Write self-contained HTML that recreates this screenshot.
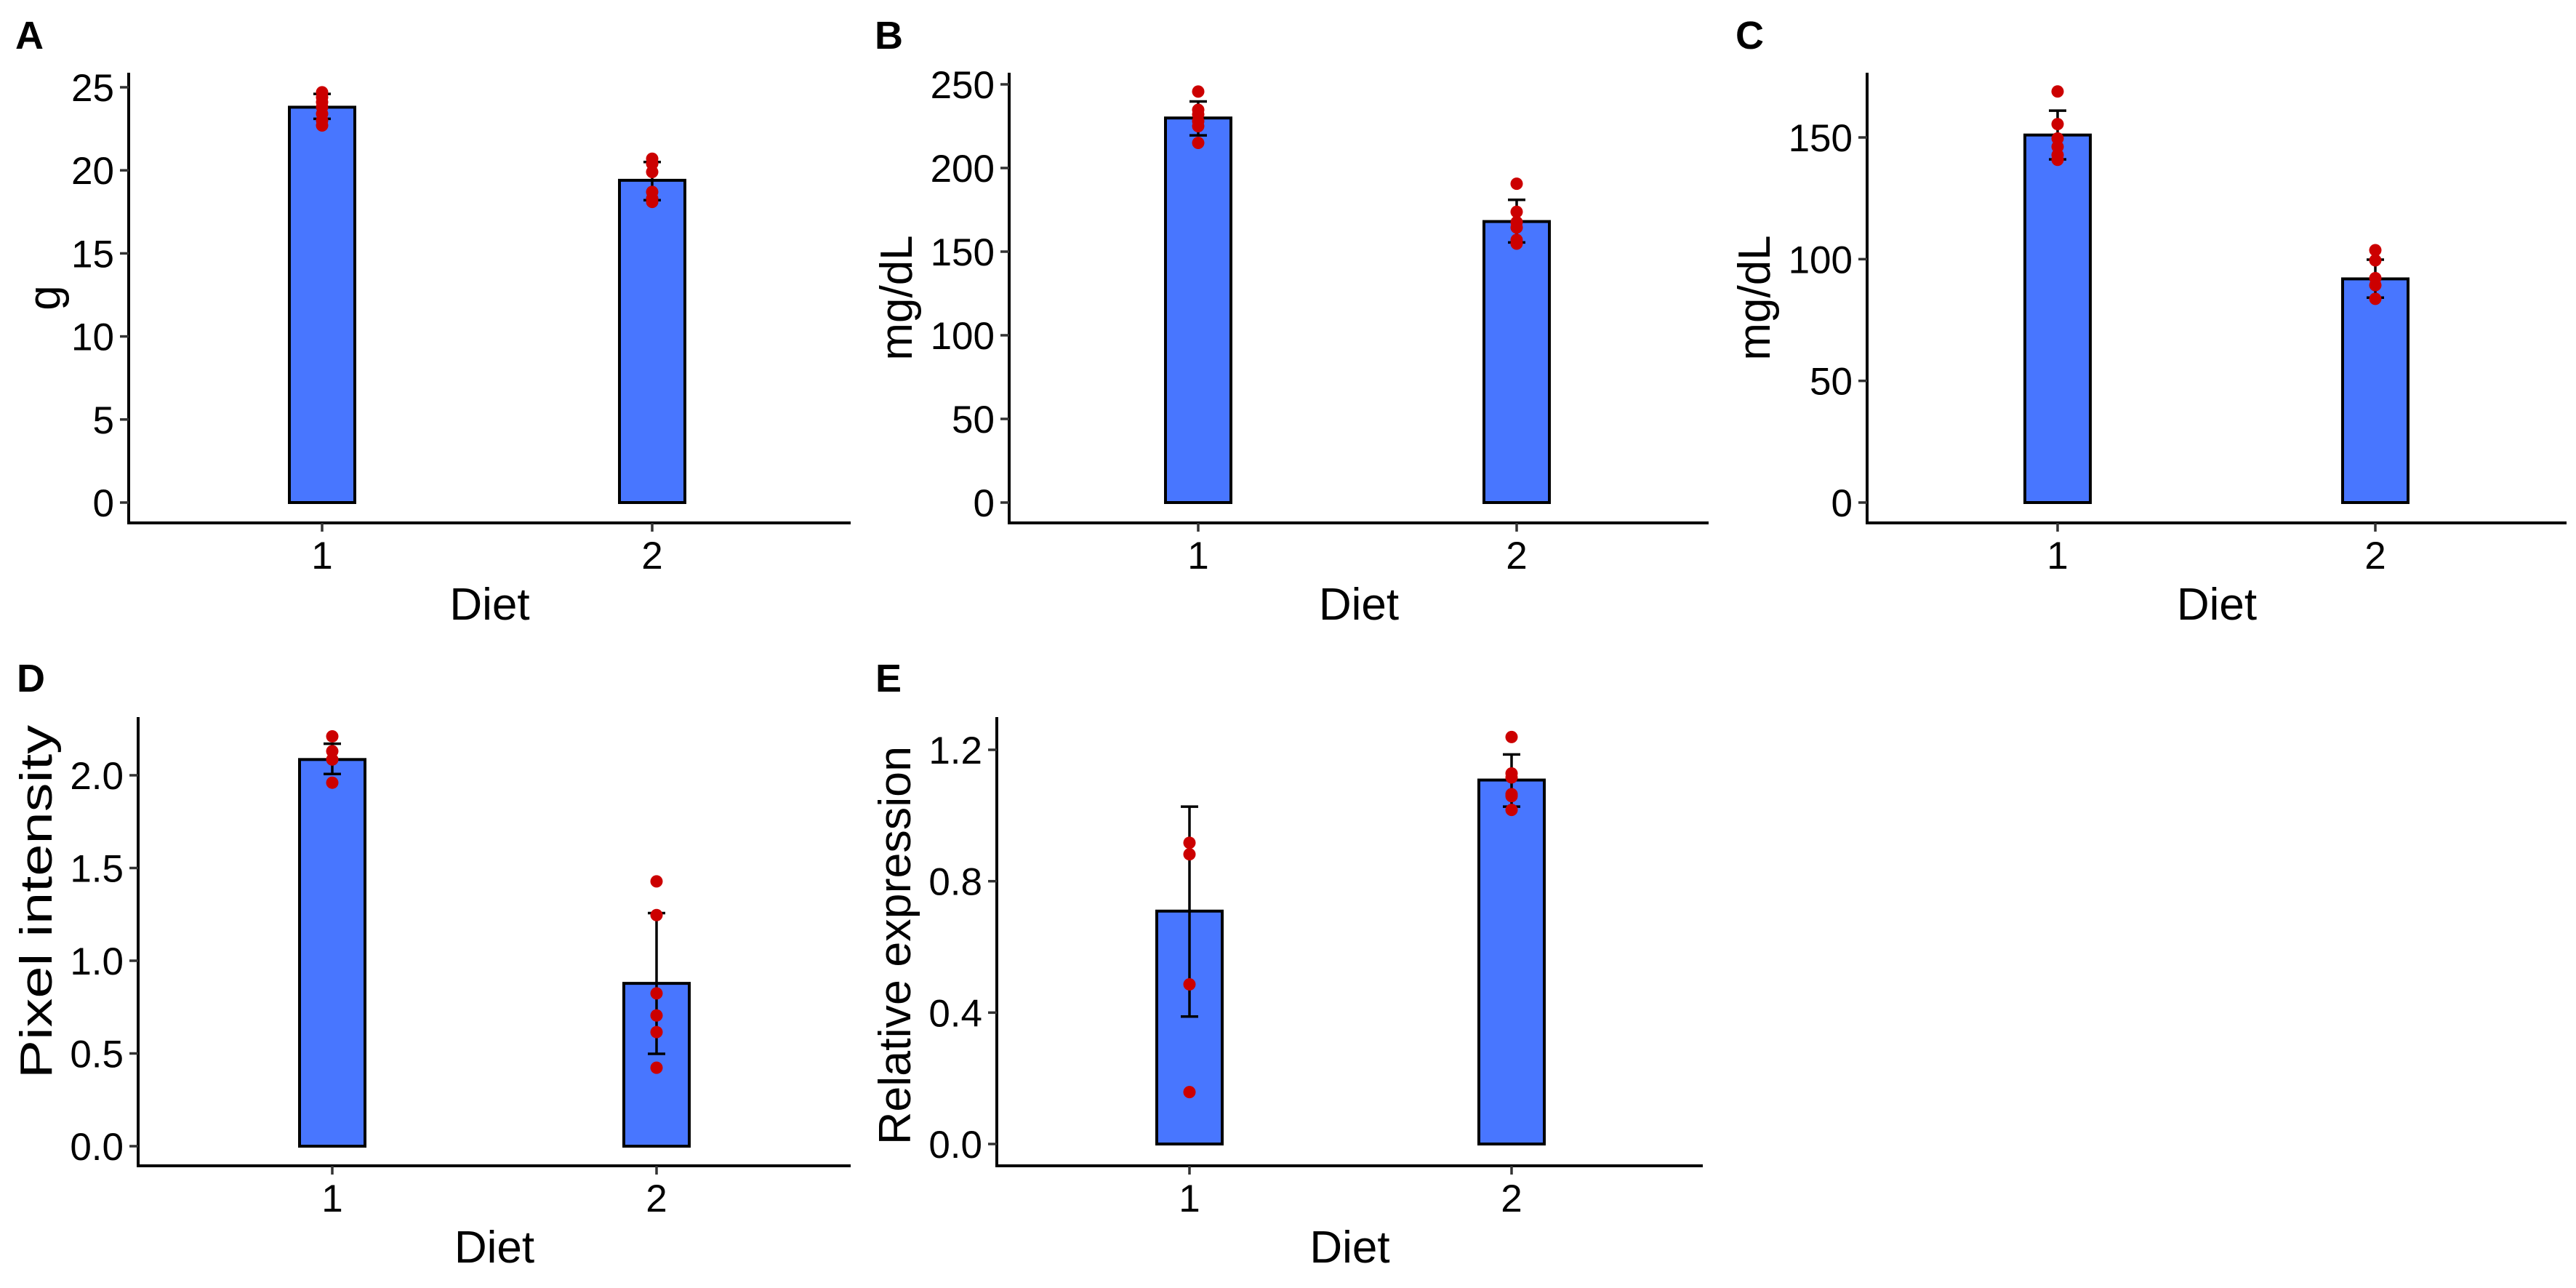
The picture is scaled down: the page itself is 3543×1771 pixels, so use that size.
<!DOCTYPE html>
<html><head><meta charset="utf-8"><style>
html,body{margin:0;padding:0;background:#fff;}
svg{display:block;font-family:"Liberation Sans",Arial,sans-serif;}
</style></head><body>
<svg id="fig" width="3543" height="1771" viewBox="0 0 3543 1771" xmlns="http://www.w3.org/2000/svg"></svg>
<script>
// ---- data ----
const categories = ["1","2"];
const aMeans = [23.8, 19.4];
const aLow = [23.1, 18.2];
const aHigh = [24.6, 20.5];
const aPoints1 = [22.7, 23.0, 23.4, 23.8, 24.1, 24.4, 24.7];
const aPoints2 = [18.1, 18.3, 18.7, 19.9, 20.4, 20.7];
const aTicks = [0, 5, 10, 15, 20, 25];
const aTickLabels = ["0","5","10","15","20","25"];

const bMeans = [229.9, 168];
const bLow = [219.5, 155.5];
const bHigh = [239.8, 181];
const bPoints1 = [215, 225, 228, 232, 234.8, 245.7];
const bPoints2 = [154.8, 157, 164.4, 167.6, 173.8, 190.6];
const bTicks = [0, 50, 100, 150, 200, 250];
const bTickLabels = ["0","50","100","150","200","250"];

const cMeans = [151, 91.9];
const cLow = [141, 84.2];
const cHigh = [161, 99.8];
const cPoints1 = [140.8, 142.8, 146.2, 149.6, 155.5, 168.9];
const cPoints2 = [83.7, 89.3, 92.2, 99.5, 103.7];
const cTicks = [0, 50, 100, 150];
const cTickLabels = ["0","50","100","150"];

const dMeans = [2.085, 0.878];
const dLow = [2.007, 0.498];
const dHigh = [2.17, 1.257];
const dPoints1 = [1.96, 2.085, 2.13, 2.21];
const dPoints2 = [0.423, 0.615, 0.705, 0.824, 1.246, 1.428];
const dTicks = [0, 0.5, 1.0, 1.5, 2.0];
const dTickLabels = ["0.0","0.5","1.0","1.5","2.0"];

const eMeans = [0.709, 1.108];
const eLow = [0.388, 1.027];
const eHigh = [1.027, 1.186];
const ePoints1 = [0.158, 0.486, 0.882, 0.917];
const ePoints2 = [1.017, 1.059, 1.065, 1.116, 1.128, 1.239];
const eTicks = [0, 0.4, 0.8, 1.2];
const eTickLabels = ["0.0","0.4","0.8","1.2"];

// ---- layout ----
const NS = "http://www.w3.org/2000/svg";
const svg = document.getElementById("fig");
function mk(tag, attrs, parent){
  const el = document.createElementNS(NS, tag);
  for (const k in attrs) el.setAttribute(k, attrs[k]);
  (parent||svg).appendChild(el);
  return el;
}
function panel(cfg){
  const g = mk("g", {});
  
  
  const y = v => cfg.y0 + (cfg.yT - cfg.y0) * v / cfg.tv;
  const xs = [cfg.c1, cfg.c2];
  cfg.means.forEach((m, i) => {
    const r = mk("rect", {x: xs[i]-45, y: y(m), width: 90, height: y(0)-y(m), fill: "#4876ff", stroke: "#000", "stroke-width": 4}, g);
    
    
  });
  cfg.means.forEach((m, i) => {
    const eg = mk("g", {stroke: "#000", "stroke-width": 3.5}, g);
    
    
    mk("line", {x1: xs[i], x2: xs[i], y1: y(cfg.low[i]), y2: y(cfg.high[i])}, eg);
    mk("line", {x1: xs[i]-12, x2: xs[i]+12, y1: y(cfg.low[i]), y2: y(cfg.low[i])}, eg);
    mk("line", {x1: xs[i]-12, x2: xs[i]+12, y1: y(cfg.high[i]), y2: y(cfg.high[i])}, eg);
  });
  [cfg.p1, cfg.p2].forEach((arr, i) => {
    arr.forEach(v => {
      const c = mk("circle", {cx: xs[i], cy: y(v), r: 8.5, fill: "#cc0000"}, g);
      
      
    });
  });
  const ax = mk("line", {x1: cfg.ax, x2: cfg.ax, y1: cfg.top, y2: cfg.bot+2, stroke: "#000", "stroke-width": 4}, g);
  
  
  const bx = mk("line", {x1: cfg.ax-2, x2: cfg.right, y1: cfg.bot, y2: cfg.bot, stroke: "#000", "stroke-width": 4}, g);
  
  
  cfg.ticks.forEach((t, i) => {
    mk("line", {x1: cfg.ax-12, x2: cfg.ax, y1: y(t), y2: y(t), stroke: "#333", "stroke-width": 3.5}, g);
    const tx = mk("text", {x: cfg.ax-20, y: y(t)+19, "text-anchor": "end", "font-size": 53, fill: "#000"}, g);
    tx.textContent = cfg.tickLabels[i];
    
    
  });
  xs.forEach((xx, i) => {
    mk("line", {x1: xx, x2: xx, y1: cfg.bot, y2: cfg.bot+12, stroke: "#333", "stroke-width": 3.5}, g);
    const tx = mk("text", {x: xx, y: cfg.xtb, "text-anchor": "middle", "font-size": 53, fill: "#000"}, g);
    tx.textContent = categories[i];
    
    
  });
  const xt = mk("text", {x: (cfg.ax+cfg.right)/2, y: cfg.xtitle, "text-anchor": "middle", "font-size": 62, fill: "#000"}, g);
  xt.textContent = "Diet";
  
  
  const ytc = cfg.ytc || (cfg.top + cfg.bot)/2;
  const ya = {x: 0, y: 0, transform: "translate(" + (cfg.ytx+21) + "," + ytc + ") rotate(-90)", "text-anchor": "middle", "font-size": 62, fill: "#000"};
  if (cfg.ylen) { ya.textLength = cfg.ylen; ya.lengthAdjust = "spacingAndGlyphs"; }
  const yt = mk("text", ya, g);
  yt.textContent = cfg.ytitle;
  
  
  const lb = mk("text", {x: cfg.lx, y: cfg.ly, "font-size": 54, "font-weight": "bold", fill: "#000"}, g);
  lb.textContent = cfg.letter;
  
  
}

panel({letter:"A", ytitle:"g", means:aMeans, low:aLow, high:aHigh, p1:aPoints1, p2:aPoints2, ticks:aTicks, tickLabels:aTickLabels,
  y0:691, yT:120, tv:25, c1:443, c2:897, ax:177, right:1170, top:100, bot:719, xtb:782, xtitle:852, ytx:61, lx:21, ly:67});
panel({letter:"B", ytitle:"mg/dL", means:bMeans, low:bLow, high:bHigh, p1:bPoints1, p2:bPoints2, ticks:bTicks, tickLabels:bTickLabels,
  y0:691, yT:116, tv:250, c1:1648, c2:2086, ax:1388, right:2350, top:100, bot:719, xtb:782, xtitle:852, ytx:1233, lx:1203, ly:67});
panel({letter:"C", ytitle:"mg/dL", means:cMeans, low:cLow, high:cHigh, p1:cPoints1, p2:cPoints2, ticks:cTicks, tickLabels:cTickLabels,
  y0:691, yT:189, tv:150, c1:2830, c2:3267, ax:2568, right:3530, top:100, bot:719, xtb:782, xtitle:852, ytx:2413, lx:2387, ly:67});
panel({letter:"D", ytitle:"Pixel intensity", ylen:486, ytc:1240, means:dMeans, low:dLow, high:dHigh, p1:dPoints1, p2:dPoints2, ticks:dTicks, tickLabels:dTickLabels,
  y0:1576, yT:1066, tv:2, c1:457, c2:903, ax:190, right:1170, top:986, bot:1603, xtb:1666, xtitle:1736, ytx:50, lx:23, ly:951});
panel({letter:"E", ytitle:"Relative expression", ylen:548, ytc:1300, means:eMeans, low:eLow, high:eHigh, p1:ePoints1, p2:ePoints2, ticks:eTicks, tickLabels:eTickLabels,
  y0:1573, yT:1031, tv:1.2, c1:1636, c2:2079, ax:1371, right:2342, top:986, bot:1603, xtb:1666, xtitle:1736, ytx:1231, lx:1204, ly:951});
</script>
</body></html>
